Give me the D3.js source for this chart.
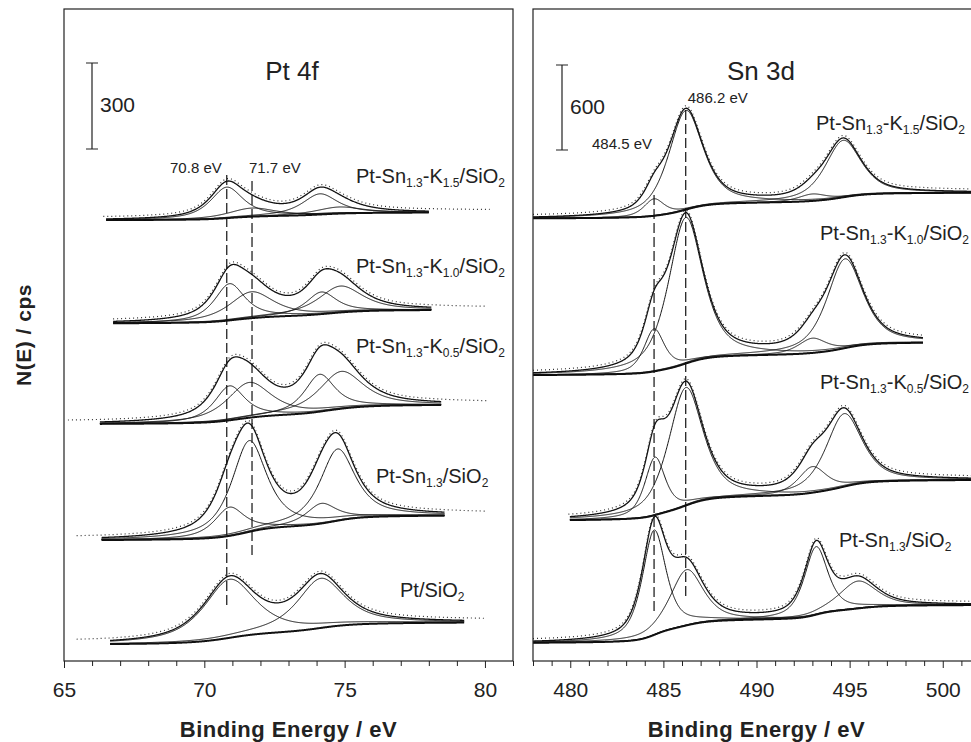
<!DOCTYPE html>
<meta charset="utf-8">
<style>
  body { margin: 0; background: #fff; }
  svg text { font-family: "Liberation Sans", Arial, sans-serif; fill: #222; }
  .axis-title { font-weight: bold; font-size: 22px; letter-spacing: 0.5px; }
  .tick text { font-size: 21px; fill: #222; }
  .tick line { stroke: #222; }
</style>
<svg id="chart" width="971" height="742"></svg>
<script src="https://d3js.org/d3.v7.min.js"></script>
<script>
// ---- Pt 4f, spectra from top to bottom (cps, eV) ----
var ptLabels = ["Pt-Sn_{1.3}-K_{1.5}/SiO_{2}", "Pt-Sn_{1.3}-K_{1.0}/SiO_{2}", "Pt-Sn_{1.3}-K_{0.5}/SiO_{2}", "Pt-Sn_{1.3}/SiO_{2}", "Pt/SiO_{2}"];
var ptBgLeft = [1538, 1178, 827, 422, 59];
var ptBgRight = [1564, 1224, 893, 507, 134];
var ptFit = [[66.5, 78.0], [66.75, 78.1], [66.28, 78.44], [66.34, 78.56], [66.64, 79.27]];
var ptData = [[66.4, 80.2], [66.75, 80.1], [65.14, 80.1], [65.45, 80.1], [65.45, 80.0]];
// [centre eV, height cps, fwhm eV]
var ptPeaks = [
  [[70.8, 108, 1.4], [71.7, 30, 2.0], [74.12, 72, 1.5], [74.8, 23, 2.0]],
  [[70.9, 128, 1.3], [71.68, 92, 1.9], [74.17, 77, 1.3], [74.85, 92, 1.9]],
  [[70.9, 120, 1.3], [71.6, 123, 1.9], [74.11, 130, 1.3], [74.88, 130, 1.9]],
  [[70.9, 100, 1.3], [71.6, 318, 1.5], [74.17, 70, 1.3], [74.75, 250, 1.5]],
  [[70.9, 204, 2.2], [74.15, 173, 2.0]]
];
var ptMarks = [70.8, 71.7];
var ptMarkSpan = [[1695, 188], [1674, 366]];
var ptMarkText = ["70.8 eV", "71.7 eV"];

// ---- Sn 3d ----
var snLabels = ["Pt-Sn_{1.3}-K_{1.5}/SiO_{2}", "Pt-Sn_{1.3}-K_{1.0}/SiO_{2}", "Pt-Sn_{1.3}-K_{0.5}/SiO_{2}", "Pt-Sn_{1.3}/SiO_{2}"];
var snBgLeft = [3125, 2019, 995, 129];
var snBgRight = [3306, 2247, 1278, 395];
var snFit = [[478, 502], [478, 498.94], [479.98, 502], [478, 502]];
var snData = [[478, 502], [478, 498.94], [479.9, 502], [478, 502]];
var snPeaks = [
  [[484.5, 120, 1.3], [486.2, 700, 2.2], [493.0, 49, 1.8], [494.65, 402, 2.3]],
  [[484.5, 300, 1.3], [486.2, 1031, 2.2], [493.0, 104, 1.8], [494.75, 630, 2.3]],
  [[484.55, 409, 1.3], [486.2, 833, 2.2], [493.0, 184, 1.8], [494.7, 515, 2.3]],
  [[484.5, 740, 1.5], [486.25, 393, 2.1], [493.2, 480, 1.5], [495.45, 193, 2.4]]
];
var snMarks = [484.5, 486.2];
var snMarkSpan = [[3290, 339], [3890, 452]];
var snMarkText = ["484.5 eV", "486.2 eV"];

var svg = d3.select("#chart");
var frameTop = 9, frameBottom = 661;

// pseudo-Voigt line shape
function pv(e, p, mix) {
  var t = (e - p[0]) / p[2];
  return p[1] * (mix / (1 + 4 * t * t) + (1 - mix) * Math.exp(-4 * Math.LN2 * t * t));
}

function addLabel(g, str, x, y, size, subSize, anchor) {
  var t = g.append("text").attr("x", x).attr("y", y)
    .style("font-size", size + "px").attr("text-anchor", anchor || "start");
  var shifted = false;
  str.split(/(_\{[^}]*\})/).forEach(function(s) {
    if (!s) return;
    if (s[0] === "_") {
      t.append("tspan").attr("dy", 4).style("font-size", subSize + "px").text(s.slice(2, -1));
      shifted = true;
    } else {
      t.append("tspan").attr("dy", shifted ? -4 : 0).text(s);
      shifted = false;
    }
  });
}

function drawPanel(o) {
  var x = d3.scaleLinear().domain(o.domain).range([o.left, o.right]);
  var y = d3.scaleLinear().domain([0, o.yMax]).range([frameBottom, frameTop]);
  var g = svg.append("g");
  var clipId = "clip" + o.name;
  svg.append("clipPath").attr("id", clipId).append("rect")
    .attr("x", o.left).attr("y", frameTop).attr("width", o.right - o.left).attr("height", frameBottom - frameTop);
  var plot = g.append("g").attr("clip-path", "url(#" + clipId + ")");
  var line = d3.line().x(function(d) { return x(d[0]); }).y(function(d) { return y(d[1]); });

  o.peaks.forEach(function(peaks, k) {
    var fit = o.fit[k], bgL = o.bgLeft[k], bgR = o.bgRight[k], step = 0.02;
    var grid = d3.range(fit[0], fit[1] + step / 2, step);
    var sum = grid.map(function(e) { return d3.sum(peaks, function(p) { return pv(e, p, o.mix); }); });
    // Shirley background
    var cum = [0];
    for (var i = 1; i < grid.length; i++) cum.push(cum[i - 1] + (sum[i] + sum[i - 1]) / 2 * step);
    var total = cum[cum.length - 1];
    function bgAt(e) {
      if (e <= fit[0]) return bgL;
      if (e >= fit[1]) return bgR;
      var kk = (e - fit[0]) / step, i0 = Math.min(Math.floor(kk), cum.length - 2), f = kk - i0;
      return bgL + (bgR - bgL) * (cum[i0] + (cum[i0 + 1] - cum[i0]) * f) / total;
    }
    var bg = grid.map(function(e) { return [e, bgAt(e)]; });
    plot.append("path").datum(bg).attr("fill", "none").attr("stroke", "#111")
      .attr("stroke-width", 2).attr("d", line);
    peaks.forEach(function(p) {
      plot.append("path").datum(grid.map(function(e, i) { return [e, bg[i][1] + pv(e, p, o.mix)]; }))
        .attr("fill", "none").attr("stroke", "#111").attr("stroke-width", 1).attr("d", line);
    });
    plot.append("path").datum(grid.map(function(e, i) { return [e, bg[i][1] + sum[i]]; }))
      .attr("fill", "none").attr("stroke", "#111").attr("stroke-width", 1.3).attr("d", line);
    // measured points
    var dr = o.data[k];
    var dgrid = d3.range(dr[0], dr[1], 0.03);
    plot.append("path")
      .datum(dgrid.map(function(e) { return [e, bgAt(e) + d3.sum(peaks, function(p) { return pv(e, p, o.mix); })]; }))
      .attr("transform", "translate(0,-2.5)")
      .attr("fill", "none").attr("stroke", "#333").attr("stroke-width", 1.2)
      .attr("stroke-dasharray", "1 3").attr("d", line);

    addLabel(g, o.labels[k], o.labelXY[k][0], o.labelXY[k][1], 20, 12);
  });

  // dashed markers
  o.marks.forEach(function(m, i) {
    g.append("line").attr("x1", x(m)).attr("x2", x(m))
      .attr("y1", y(o.markSpan[i][0])).attr("y2", y(o.markSpan[i][1]))
      .attr("stroke", "#111").attr("stroke-width", 1.2).attr("stroke-dasharray", "10 4");
  });
  o.markLabels.forEach(function(t) {
    g.append("text").attr("x", x(t.at) + t.dx).attr("y", t.y).attr("text-anchor", t.anchor)
      .style("font-size", "15px").text(t.text);
  });

  // scale bar
  var barX = o.left + o.barDx, barTop = o.barTop, barLen = y(0) - y(o.bar);
  g.append("path").attr("fill", "none").attr("stroke", "#222").attr("stroke-width", 1.2)
    .attr("d", "M" + (barX - 6) + "," + barTop + "h12M" + barX + "," + barTop + "v" + barLen +
      "M" + (barX - 6) + "," + (barTop + barLen) + "h12");
  g.append("text").attr("x", barX + 8).attr("y", barTop + 49).style("font-size", "21px").text(o.bar);

  g.append("text").attr("x", o.titleX).attr("y", 80).attr("text-anchor", "middle")
    .style("font-size", "26px").text(o.title);

  // frame
  g.append("rect").attr("x", o.left).attr("y", frameTop).attr("width", o.right - o.left)
    .attr("height", frameBottom - frameTop).attr("fill", "none").attr("stroke", "#222").attr("stroke-width", 1.2);

  // axes
  var ax = g.append("g").attr("transform", "translate(0," + frameBottom + ")")
    .call(d3.axisBottom(x).tickValues(o.major).tickSize(7).tickSizeOuter(0).tickPadding(14).tickFormat(d3.format("d")));
  ax.select(".domain").remove();
  var mx = g.append("g").attr("transform", "translate(0," + frameBottom + ")")
    .call(d3.axisBottom(x).tickValues(o.minor).tickSize(5).tickSizeOuter(0).tickFormat(""));
  mx.select(".domain").remove();

  g.append("text").attr("class", "axis-title").attr("x", (o.left + o.right) / 2).attr("y", 737)
    .attr("text-anchor", "middle").text("Binding Energy / eV");
}

drawPanel({
  name: "pt", domain: [65, 81], left: 64, right: 513, yMax: 2274, mix: 0.8,
  peaks: ptPeaks, fit: ptFit, data: ptData, bgLeft: ptBgLeft, bgRight: ptBgRight,
  labels: ptLabels, labelXY: [[356, 183], [356, 273], [356, 353], [376, 483], [400, 597]],
  marks: ptMarks, markSpan: ptMarkSpan,
  markLabels: [
    { at: ptMarks[0], dx: -5, y: 173, anchor: "end", text: ptMarkText[0] },
    { at: ptMarks[1], dx: -3, y: 173, anchor: "start", text: ptMarkText[1] }
  ],
  bar: 300, barDx: 28, barTop: 63, title: "Pt 4f", titleX: 292,
  major: [65, 70, 75, 80],
  minor: d3.range(66, 82).filter(function(v) { return v % 5 !== 0; })
});

drawPanel({
  name: "sn", domain: [478, 502], left: 533, right: 980, yMax: 4603, mix: 0.65,
  peaks: snPeaks, fit: snFit, data: snData, bgLeft: snBgLeft, bgRight: snBgRight,
  labels: snLabels, labelXY: [[816, 130], [820, 240], [820, 389], [839, 547]],
  marks: snMarks, markSpan: snMarkSpan,
  markLabels: [
    { at: snMarks[0], dx: -2, y: 149, anchor: "end", text: snMarkText[0] },
    { at: snMarks[1], dx: 2, y: 103, anchor: "start", text: snMarkText[1] }
  ],
  bar: 600, barDx: 29, barTop: 65, title: "Sn 3d", titleX: 761,
  major: [480, 485, 490, 495, 500],
  minor: d3.range(478, 502).filter(function(v) { return v % 5 !== 0; })
});

svg.append("text").attr("class", "axis-title").style("font-size", "21px")
  .attr("transform", "translate(31,335) rotate(-90)").attr("text-anchor", "middle").text("N(E) / cps");
</script>
